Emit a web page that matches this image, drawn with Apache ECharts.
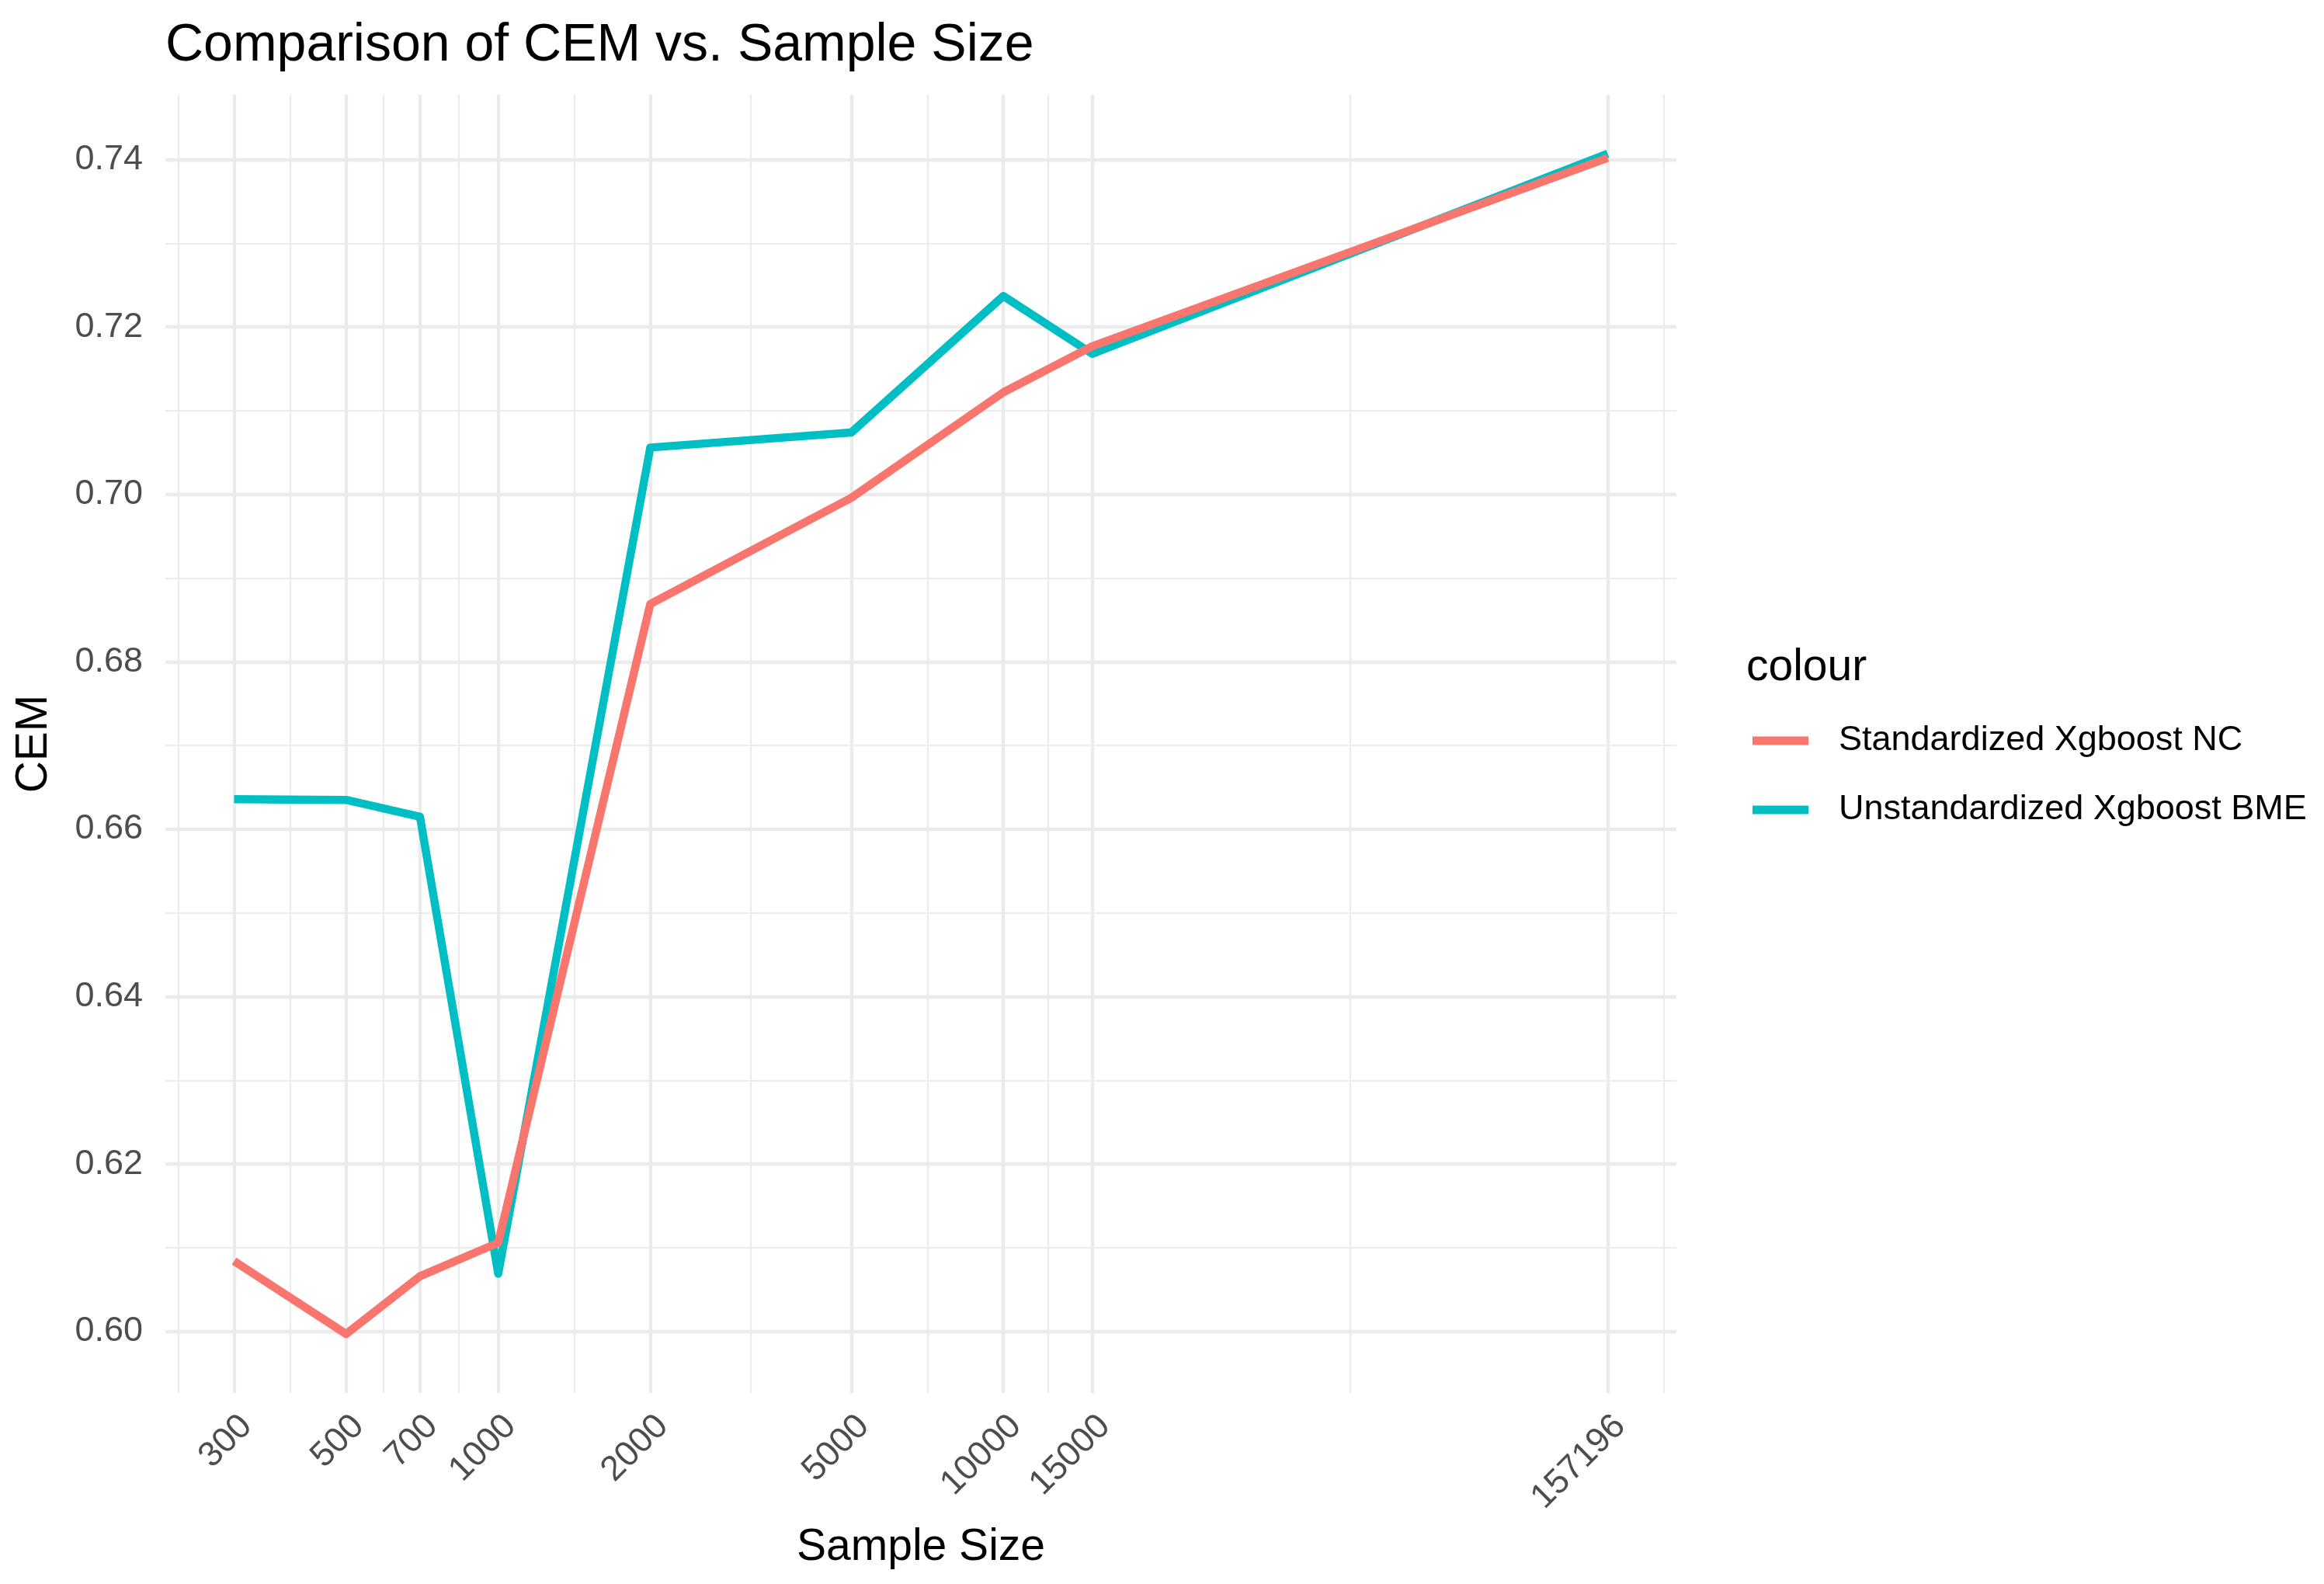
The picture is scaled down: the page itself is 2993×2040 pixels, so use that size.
<!DOCTYPE html>
<html><head><meta charset="utf-8">
<script src="https://cdn.jsdelivr.net/npm/echarts@6/dist/echarts.min.js"></script>
<style>html,body{margin:0;padding:0;background:#fff}#c{width:2993px;height:2040px}</style>
</head><body><div id="c"></div>
<script>
// ---- data ----
const sampleSizes = [300, 500, 700, 1000, 2000, 5000, 10000, 15000, 157196];
const standardizedNC = [0.6084, 0.5997, 0.6066, 0.6106, 0.6869, 0.6996, 0.7122, 0.7177, 0.7402];
const unstandardizedBME = [0.6636, 0.6635, 0.6615, 0.6069, 0.7056, 0.7074, 0.7237, 0.7168, 0.7407];
const xBreaks = [300, 500, 700, 1000, 2000, 5000, 10000, 15000, 157196];
const yBreaks = [0.60, 0.62, 0.64, 0.66, 0.68, 0.70, 0.72, 0.74];
const seriesNames = ['Standardized Xgboost NC', 'Unstandardized Xgboost BME'];
const seriesColors = ['#F8766D', '#00BFC4'];

// ---- scale helpers (ggplot-like 5% expansion, minor breaks at midpoints) ----
const lg = Math.log10;
const lx = sampleSizes.map(lg);
const lxMin = Math.min(...lx), lxMax = Math.max(...lx);
const lxPad = 0.05 * (lxMax - lxMin);
const xMin = Math.pow(10, lxMin - lxPad), xMax = Math.pow(10, lxMax + lxPad);
const allY = standardizedNC.concat(unstandardizedBME);
const yLo = Math.min(...allY), yHi = Math.max(...allY);
const yPad = 0.05 * (yHi - yLo);
const yMin = yLo - yPad, yMax = yHi + yPad;

function minorMids(b) {
  const bd = b[1] - b[0];
  const ext = [b[0] - bd].concat(b, [b[b.length - 1] + bd]);
  const out = [];
  for (let i = 0; i < ext.length - 1; i++) out.push((ext[i] + ext[i + 1]) / 2);
  return out;
}
const xMinor = minorMids(xBreaks.map(lg)).map(v => Math.pow(10, v)).filter(v => v > xMin && v < xMax);
const yMinor = minorMids(yBreaks).filter(v => v > yMin && v < yMax);

const FONT = 'Liberation Sans';
const grid = { left: 213, right: 834, top: 122, bottom: 246, containLabel: false };

const chart = echarts.init(document.getElementById('c'), null, { renderer: 'canvas' });
chart.setOption({
  backgroundColor: '#ffffff',
  animation: false,
  title: [
    { text: 'Comparison of CEM vs. Sample Size', left: 213, top: 25, padding: 0,
      textStyle: { fontFamily: FONT, fontSize: 68, fontWeight: 'normal', color: '#000', lineHeight: 68 } },
    { text: 'colour', left: 2249, top: 832, padding: 0,
      textStyle: { fontFamily: FONT, fontSize: 57, fontWeight: 'normal', color: '#000', lineHeight: 57 } }
  ],
  legend: {
    orient: 'vertical', left: 2257, top: 931, padding: 0,
    data: seriesNames,
    icon: 'rect', itemWidth: 72, itemHeight: 11, itemGap: 43,
    textStyle: { fontFamily: FONT, fontSize: 45, color: '#000', lineHeight: 46, padding: [0, 0, 0, 34] },
    selectedMode: false
  },
  grid: grid,
  xAxis: [
    {
      type: 'log', logBase: 10, min: xMin, max: xMax,
      name: 'Sample Size', nameLocation: 'middle', nameGap: 171,
      nameTextStyle: { fontFamily: FONT, fontSize: 57, color: '#000' },
      axisLine: { show: false },
      axisTick: { show: false, customValues: xBreaks },
      axisLabel: { customValues: xBreaks, rotate: 45, align: 'right', verticalAlign: 'top', margin: 20,
        fontFamily: FONT, fontSize: 45, color: '#4D4D4D', formatter: v => String(Math.round(v)) },
      splitLine: { show: true, lineStyle: { color: '#EBEBEB', width: 4.4 } }
    },
    {
      type: 'log', logBase: 10, min: xMin, max: xMax, gridIndex: 0,
      axisLine: { show: false },
      axisTick: { show: false, customValues: xMinor },
      axisLabel: { show: false, customValues: xMinor },
      splitLine: { show: true, lineStyle: { color: '#EBEBEB', width: 2.2 } }
    }
  ],
  yAxis: [
    {
      type: 'value', min: yMin, max: yMax,
      name: 'CEM', nameLocation: 'middle', nameGap: 140, nameRotate: 90,
      nameTextStyle: { fontFamily: FONT, fontSize: 57, color: '#000' },
      axisLine: { show: false },
      axisTick: { show: false, customValues: yBreaks },
      axisLabel: { customValues: yBreaks, margin: 29, fontFamily: FONT, fontSize: 45, color: '#4D4D4D',
        formatter: v => v.toFixed(2) },
      splitLine: { show: true, lineStyle: { color: '#EBEBEB', width: 4.4 } }
    },
    {
      type: 'value', min: yMin, max: yMax, gridIndex: 0,
      axisLine: { show: false },
      axisTick: { show: false, customValues: yMinor },
      axisLabel: { show: false, customValues: yMinor },
      splitLine: { show: true, lineStyle: { color: '#EBEBEB', width: 2.2 } }
    }
  ],
  series: [
    {
      name: seriesNames[1], type: 'line', xAxisIndex: 0, yAxisIndex: 0,
      data: sampleSizes.map((x, i) => [x, unstandardizedBME[i]]),
      symbol: 'none', showSymbol: false, color: seriesColors[1],
      lineStyle: { width: 10.5, color: seriesColors[1], join: 'round', cap: 'butt' }, z: 3
    },
    {
      name: seriesNames[0], type: 'line', xAxisIndex: 0, yAxisIndex: 0,
      data: sampleSizes.map((x, i) => [x, standardizedNC[i]]),
      symbol: 'none', showSymbol: false, color: seriesColors[0],
      lineStyle: { width: 10.5, color: seriesColors[0], join: 'round', cap: 'butt' }, z: 4
    }
  ]
});
</script></body></html>
